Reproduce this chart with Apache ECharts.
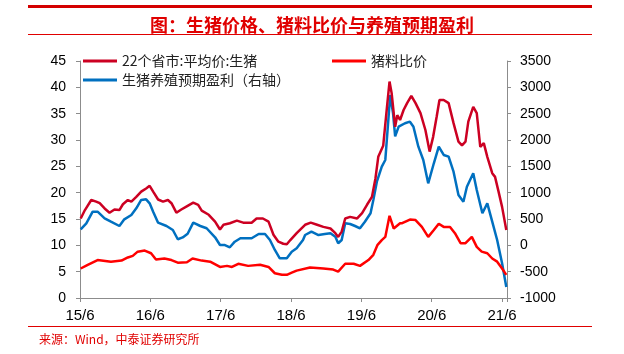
<!DOCTYPE html>
<html>
<head>
<meta charset="utf-8">
<script src="https://cdn.jsdelivr.net/npm/echarts@6/dist/echarts.min.js"></script>
<style>
  html, body { margin: 0; padding: 0; background: #fff; }
  #chart { width: 624px; height: 354px; }
</style>
</head>
<body>
<div id="chart"></div>
<script>
// x values are years counted from 2015/6
const xTickLabels = ['15/6', '16/6', '17/6', '18/6', '19/6', '20/6', '21/6']

const priceT = [0.01, 0.07, 0.16, 0.23, 0.28, 0.35, 0.42, 0.49, 0.56, 0.61, 0.68, 0.73, 0.80, 0.87, 0.94, 0.99,
    1.04, 1.11, 1.18, 1.25, 1.30, 1.37, 1.44, 1.53, 1.61, 1.68, 1.73, 1.83, 1.92, 1.99,
    2.04, 2.13, 2.23, 2.32, 2.44, 2.51, 2.60, 2.68, 2.75, 2.82, 2.89, 2.94, 2.99,
    3.08, 3.20, 3.28, 3.37, 3.46, 3.56, 3.63, 3.67, 3.72, 3.77, 3.84, 3.94,
    4.01, 4.08, 4.15, 4.20, 4.24, 4.31, 4.36, 4.40, 4.43, 4.48, 4.51, 4.55, 4.60, 4.65, 4.71, 4.77, 4.84, 4.91, 4.97,
    5.02, 5.07, 5.11, 5.17, 5.24, 5.31, 5.38, 5.43, 5.48, 5.52, 5.59, 5.64, 5.69, 5.74, 5.79, 5.86, 5.90, 5.95, 6.00, 6.06]
const priceValues = [15.1, 16.7, 18.6, 18.3, 18.0, 17.0, 16.2, 16.8, 16.7, 17.8, 18.6, 18.3, 19.2, 20.2, 20.8, 21.3,
    20.2, 18.7, 18.3, 18.6, 18.0, 16.2, 16.8, 17.5, 18.1, 17.7, 16.6, 15.8, 14.5, 13.0,
    13.9, 14.2, 14.7, 14.3, 14.3, 15.1, 15.1, 14.5, 12.0, 10.7, 10.3, 10.2, 11.0,
    12.3, 13.9, 14.3, 13.9, 13.5, 13.2, 12.3, 11.6, 12.6, 15.1, 15.4, 15.1,
    16.1, 17.7, 19.2, 22.7, 26.8, 28.9, 35.7, 41.1, 38.9, 32.5, 34.7, 33.8, 35.7, 37.0, 38.4, 37.0, 35.1, 31.9, 27.8,
    30.6, 34.4, 37.6, 37.6, 37.0, 33.2, 29.7, 29.0, 29.7, 33.5, 36.3, 35.1, 28.7, 29.4, 26.8, 23.7, 23.0, 20.2, 17.3, 12.9]

const ratioT = [0.01, 0.11, 0.25, 0.44, 0.59, 0.68, 0.75, 0.82, 0.92, 1.01, 1.08, 1.20, 1.30, 1.39, 1.52,
    1.60, 1.73, 1.85, 1.99, 2.09, 2.16, 2.25, 2.39, 2.56, 2.68, 2.77, 2.87, 2.94,
    3.01, 3.08, 3.27, 3.46, 3.60, 3.67, 3.77, 3.89, 3.98,
    4.10, 4.17, 4.23, 4.29, 4.34, 4.40, 4.46, 4.55, 4.58, 4.69, 4.77, 4.86, 4.95,
    5.03, 5.10, 5.17, 5.26, 5.33, 5.41, 5.48, 5.57, 5.64, 5.71, 5.79, 5.86, 5.93, 6.00, 6.06]
const ratioValues = [5.6, 6.3, 7.2, 6.9, 7.1, 7.7, 8.0, 8.8, 9.0, 8.5, 7.3, 7.5, 7.2, 6.7, 6.8,
    7.5, 7.1, 6.9, 5.9, 6.1, 5.9, 6.5, 6.1, 6.3, 5.9, 4.7, 4.4, 4.4,
    4.8, 5.2, 5.8, 5.6, 5.4, 5.0, 6.5, 6.5, 6.1,
    7.2, 8.2, 10.1, 11.0, 11.6, 15.6, 13.2, 14.2, 14.2, 14.9, 14.8, 13.5, 11.6,
    12.9, 14.1, 13.5, 13.5, 12.3, 10.4, 10.4, 11.6, 9.7, 8.8, 8.5, 7.5, 6.9, 5.6, 4.4]

const profitT = [0.01, 0.09, 0.18, 0.25, 0.35, 0.44, 0.56, 0.63, 0.73, 0.80, 0.87, 0.94, 0.99,
    1.04, 1.11, 1.23, 1.32, 1.39, 1.46, 1.53, 1.61, 1.71, 1.80, 1.92, 1.99,
    2.06, 2.13, 2.20, 2.28, 2.44, 2.54, 2.63, 2.70, 2.77, 2.84, 2.94,
    3.01, 3.08, 3.17, 3.20, 3.29, 3.39, 3.48, 3.56, 3.63, 3.67, 3.72, 3.77, 3.84, 3.91, 3.98,
    4.05, 4.13, 4.17, 4.22, 4.29, 4.34, 4.41, 4.45, 4.48, 4.53, 4.62, 4.69, 4.74, 4.81, 4.88, 4.95,
    5.03, 5.10, 5.17, 5.24, 5.31, 5.38, 5.45, 5.50, 5.59, 5.64, 5.72, 5.79, 5.86, 5.93, 6.00, 6.06]
const profitValues = [304, 418, 639, 639, 513, 449, 367, 494, 576, 703, 861, 874, 798,
    639, 430, 367, 291, 115, 150, 220, 430, 367, 324, 153, 6,
    6, -37, 69, 134, 134, 215, 215, 101, -88, -246, -246,
    -121, -56, 101, 196, 259, 196, 215, 229, 164, 39, 101, 418, 405, 367, 324,
    449, 608, 861, 1209, 1493, 1621, 2855, 2507, 2070, 2253, 2318, 2348, 2253, 1873, 1621, 1178,
    1558, 1873, 1716, 1683, 1398, 956, 829, 1114, 1368, 1051, 608, 798, 449, 101, -341, -790]

const zip = (xs, ys) => xs.map((x, i) => [x, ys[i]])

const NAME_PRICE = '22个省市:平均价:生猪'
const NAME_RATIO = '猪料比价'
const NAME_PROFIT = '生猪养殖预期盈利（右轴）'

const CJK = '"Noto Sans CJK SC", sans-serif'
const LATIN = '"Liberation Sans", Arial, sans-serif'
const RED = '#E00000'

const axisLine = { show: true, lineStyle: { color: '#8c8c8c', width: 1 } }
const axisTick = { show: true, inside: false, length: 4, lineStyle: { color: '#8c8c8c' } }

const legendCommon = {
    padding: 0,
    icon: 'rect',
    itemWidth: 34,
    itemHeight: 3,
    itemGap: 3,
    textStyle: { fontFamily: CJK, fontSize: 14, lineHeight: 16, color: '#222' }
}

const chart = echarts.init(document.getElementById('chart'))
chart.setOption({
    animation: false,
    title: {
        text: '图：生猪价格、猪料比价与养殖预期盈利',
        left: 'center',
        top: 11,
        textStyle: { fontFamily: CJK, fontSize: 18, fontWeight: 'bold', color: RED }
    },
    graphic: [
        { type: 'rect', shape: { x: 28, y: 5, width: 564, height: 3 }, style: { fill: '#D40000' } },
        { type: 'rect', shape: { x: 28, y: 34, width: 564, height: 1 }, style: { fill: RED } },
        { type: 'rect', shape: { x: 28, y: 326, width: 564, height: 1 }, style: { fill: RED } },
        {
            type: 'text', left: 39, top: 333,
            style: { text: '来源：Wind，中泰证券研究所', fontFamily: CJK, fontSize: 12, fill: RED }
        }
    ],
    legend: [
        Object.assign({ data: [NAME_PRICE, NAME_PROFIT], orient: 'vertical', left: 83, top: 53 }, legendCommon),
        Object.assign({ data: [NAME_RATIO], orient: 'vertical', left: 332, top: 53 }, legendCommon)
    ],
    grid: { left: 80, right: 117, top: 61, bottom: 56 },
    xAxis: {
        type: 'value',
        min: 0,
        max: 6.07,
        interval: 1,
        axisLine: axisLine,
        axisTick: axisTick,
        splitLine: { show: false },
        axisLabel: {
            margin: 10,
            fontFamily: LATIN,
            fontSize: 15,
            color: '#000',
            formatter: v => {
                const k = Math.round(v)
                return Math.abs(v - k) < 1e-6 ? (xTickLabels[k] || '') : ''
            }
        }
    },
    yAxis: [
        {
            type: 'value', min: 0, max: 45, interval: 5,
            axisLine: axisLine, axisTick: axisTick, splitLine: { show: false },
            axisLabel: { margin: 14, fontFamily: LATIN, fontSize: 14, color: '#000', formatter: v => String(v) }
        },
        {
            type: 'value', min: -1000, max: 3500, interval: 500, position: 'right',
            axisLine: axisLine, axisTick: axisTick, splitLine: { show: false },
            axisLabel: { margin: 13, fontFamily: LATIN, fontSize: 14, color: '#000', formatter: v => String(v) }
        }
    ],
    series: [
        {
            name: NAME_PROFIT, type: 'line', yAxisIndex: 1, showSymbol: false,
            itemStyle: { color: '#0070C0' }, lineStyle: { color: '#0070C0', width: 2.5 },
            data: zip(profitT, profitValues)
        },
        {
            name: NAME_RATIO, type: 'line', showSymbol: false,
            itemStyle: { color: '#FF0000' }, lineStyle: { color: '#FF0000', width: 2.5 },
            data: zip(ratioT, ratioValues)
        },
        {
            name: NAME_PRICE, type: 'line', showSymbol: false,
            itemStyle: { color: '#CC0022' }, lineStyle: { color: '#CC0022', width: 2.5 },
            data: zip(priceT, priceValues)
        }
    ]
})
</script>
</body>
</html>
